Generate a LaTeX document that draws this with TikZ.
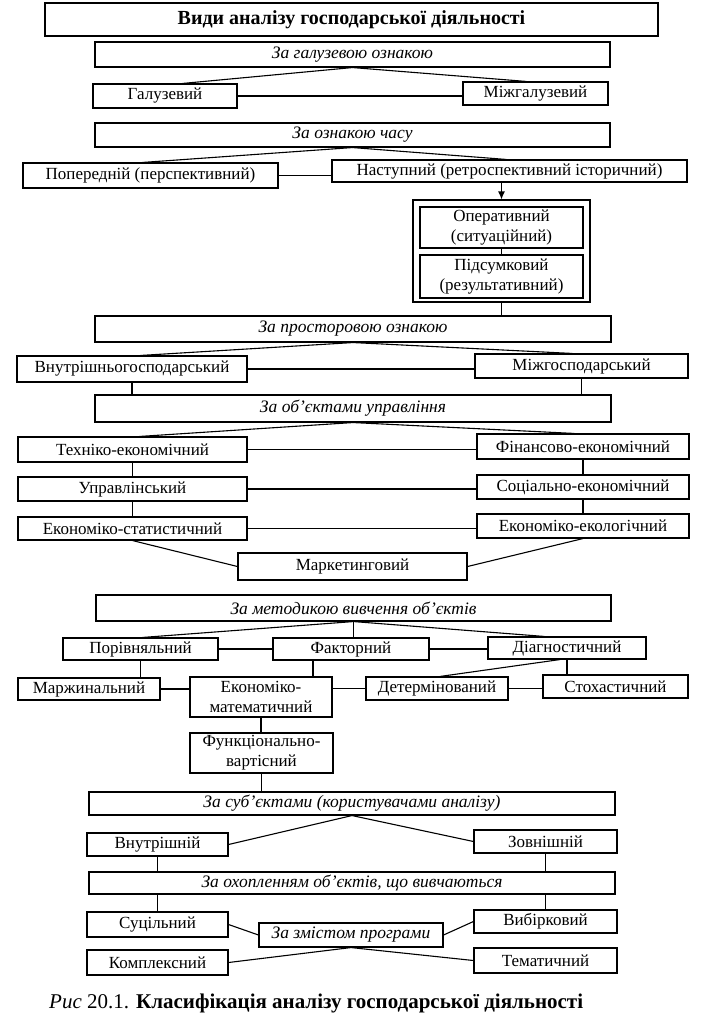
\documentclass[tikz,border=0pt]{standalone}
\usepackage{fontspec}
\setmainfont{Liberation Serif}
\usetikzlibrary{arrows.meta}
\tikzset{
  bx/.style={draw, line width=1.1pt, inner sep=0pt, align=center, font=\fontsize{17}{20}\selectfont},
  cat/.style={bx, font=\fontsize{17.5}{20}\selectfont\itshape},
  ln/.style={line width=1.1pt},
}
\begin{document}
\begin{tikzpicture}[x=1pt,y=-1pt]
\useasboundingbox[fill=white] (0,0) rectangle (703,1021);
% boxes
\node[bx, minimum width=613pt, minimum height=33pt, font=\fontsize{20}{22}\selectfont\bfseries] (title) at (351.5,19.5) {Види аналізу господарської діяльності};
\node[cat, minimum width=515pt, minimum height=25pt] (g1) at (352.5,54.5) {За галузевою ознакою};
\node[bx, minimum width=144pt, minimum height=24pt] (galuz) at (165,96) {Галузевий};
\node[bx, minimum width=145pt, minimum height=23pt] (mizhg) at (535.5,93.5) {Міжгалузевий};
\node[cat, minimum width=515pt, minimum height=24pt] (g2) at (352.5,135) {За ознакою часу};
\node[bx, minimum width=255pt, minimum height=25pt] (poper) at (150.5,175.5) {Попередній (перспективний)};
\node[bx, minimum width=355pt, minimum height=22pt] (nastup) at (509.5,171) {Наступний (ретроспективний історичний)};
\node[bx, minimum width=177pt, minimum height=102pt] (outer) at (501.5,251) {};
\node[bx, minimum width=163pt, minimum height=41pt] (op) at (501.5,227.5) {Оперативний\\(ситуаційний)};
\node[bx, minimum width=163pt, minimum height=43pt] (pid) at (501.5,276.5) {Підсумковий\\(результативний)};
\node[cat, minimum width=516pt, minimum height=26pt] (g3) at (353,329) {За просторовою ознакою};
\node[bx, minimum width=230pt, minimum height=26pt] (vnutr) at (132,369) {Внутрішньогосподарський};
\node[bx, minimum width=213pt, minimum height=24pt] (mizhgosp) at (581.5,366) {Міжгосподарський};
\node[cat, minimum width=516pt, minimum height=27pt] (g4) at (353,408.5) {За об’єктами управління};
\node[bx, minimum width=229pt, minimum height=25pt] (tekh) at (132.5,449.5) {Техніко-економічний};
\node[bx, minimum width=212pt, minimum height=25pt] (fin) at (583,446.5) {Фінансово-економічний};
\node[bx, minimum width=229pt, minimum height=24pt] (upr) at (132.5,489) {Управлінський};
\node[bx, minimum width=212pt, minimum height=24pt] (soc) at (583,487) {Соціально-економічний};
\node[bx, minimum width=229pt, minimum height=23pt] (ekstat) at (132.5,528.5) {Економіко-статистичний};
\node[bx, minimum width=212pt, minimum height=24pt] (ekekol) at (583,526) {Економіко-екологічний};
\node[bx, minimum width=229pt, minimum height=27pt] (mark) at (352.5,566.5) {Маркетинговий};
\node[cat, minimum width=515pt, minimum height=26pt] (g5) at (353.5,608) {За методикою вивчення об’єктів};
\node[bx, minimum width=155pt, minimum height=22pt] (porivn) at (140.5,649) {Порівняльний};
\node[bx, minimum width=156pt, minimum height=22pt] (faktor) at (351,649) {Факторний};
\node[bx, minimum width=158pt, minimum height=22pt] (diagn) at (567,648) {Діагностичний};
\node[bx, minimum width=142pt, minimum height=22pt] (marzh) at (89,689) {Маржинальний};
\node[bx, minimum width=142pt, minimum height=40pt] (ekmat) at (261,697) {Економіко-\\математичний};
\node[bx, minimum width=142pt, minimum height=23pt] (determ) at (437,688.5) {Детермінований};
\node[bx, minimum width=145pt, minimum height=23pt] (stokh) at (615.5,686.5) {Стохастичний};
\node[bx, minimum width=143pt, minimum height=40pt] (funk) at (261.5,753) {Функціонально-\\вартісний};
\node[cat, minimum width=526pt, minimum height=23pt] (g6) at (352,803.5) {За суб’єктами (користувачами аналізу)};
\node[bx, minimum width=141pt, minimum height=23pt] (vnutr2) at (157.5,844.5) {Внутрішній};
\node[bx, minimum width=143pt, minimum height=23pt] (zovn) at (545.5,841.5) {Зовнішній};
\node[cat, minimum width=526pt, minimum height=22pt] (g7) at (352,883) {За охопленням об’єктів, що вивчаються};
\node[bx, minimum width=141pt, minimum height=25pt] (sucil) at (157.5,924.5) {Суцільний};
\node[bx, minimum width=143pt, minimum height=23pt] (vybirk) at (545.5,921.5) {Вибірковий};
\node[cat, minimum width=184pt, minimum height=24pt] (zmist) at (351,935) {За змістом програми};
\node[bx, minimum width=141pt, minimum height=25pt] (kompl) at (157.5,962.5) {Комплексний};
\node[bx, minimum width=143pt, minimum height=25pt] (temat) at (545.5,960.5) {Тематичний};
\node[anchor=west, inner sep=0pt, font=\fontsize{21}{24}\selectfont] (cap) at (49,1003) {{\itshape Рис} 20.1. \textbf{Класифікація аналізу господарської діяльності}};
% connectors
\draw[ln] (g1.south) -- ([xshift=90pt]galuz.north west);
\draw[ln] (g1.south) -- ([xshift=64pt]mizhg.north west);
\draw[ln] (galuz.east) -- (galuz.east -| mizhg.west);
\draw[ln] (g2.south) -- ([xshift=120pt]poper.north west);
\draw[ln] (g2.south) -- ([xshift=175pt]nastup.north west);
\draw[ln] (poper.east) -- (poper.east -| nastup.west);
\draw[ln, -{Latex[length=8pt,width=7pt]}] (nastup.south -| outer.north) -- (outer.north);
\draw[ln] (op.south) -- (pid.north);
\draw[ln] (outer.south) -- (outer.south |- g3.north);
\draw[ln] (g3.south) -- ([xshift=124pt]vnutr.north west);
\draw[ln] (g3.south) -- ([xshift=98pt]mizhgosp.north west);
\draw[ln] (vnutr.east) -- (vnutr.east -| mizhgosp.west);
\draw[ln] (vnutr.south) -- (vnutr.south |- g4.north);
\draw[ln] (mizhgosp.south) -- (mizhgosp.south |- g4.north);
\draw[ln] (g4.south) -- ([xshift=122pt]tekh.north west);
\draw[ln] (g4.south) -- ([xshift=98pt]fin.north west);
\draw[ln] (tekh.east) -- (tekh.east -| fin.west);
\draw[ln] (tekh.south) -- (upr.north);
\draw[ln] (fin.south) -- (soc.north);
\draw[ln] (upr.east) -- (upr.east -| soc.west);
\draw[ln] (upr.south) -- (ekstat.north);
\draw[ln] (soc.south) -- (ekekol.north);
\draw[ln] (ekstat.east) -- (ekstat.east -| ekekol.west);
\draw[ln] (ekstat.south) -- (mark.west);
\draw[ln] (ekekol.south) -- (mark.east);
\draw[ln] (g5.south) -- ([xshift=80pt]porivn.north west);
\draw[ln] (g5.south) -- (g5.south |- faktor.north);
\draw[ln] (g5.south) -- ([xshift=57pt]diagn.north west);
\draw[ln] (porivn.east) -- (porivn.east -| faktor.west);
\draw[ln] (faktor.east) -- (faktor.east -| diagn.west);
\draw[ln] (porivn.south) -- (porivn.south |- marzh.north);
\coordinate (fk) at ([xshift=-38pt]faktor.south);
\draw[ln] (fk) -- (fk |- ekmat.north);
\draw[ln] (marzh.east) -- (marzh.east -| ekmat.west);
\draw[ln] (determ.west -| ekmat.east) -- (determ.west);
\draw[ln] (determ.east) -- (determ.east -| stokh.west);
\draw[ln] ([xshift=-7pt]diagn.south) -- ([xshift=3pt]determ.north);
\draw[ln] (diagn.south) -- (diagn.south |- stokh.north);
\draw[ln] (ekmat.south) -- (ekmat.south |- funk.north);
\draw[ln] (funk.south) -- (funk.south |- g6.north);
\draw[ln] (g6.south) -- (vnutr2.east);
\draw[ln] (g6.south) -- (zovn.west);
\draw[ln] (vnutr2.south) -- (vnutr2.south |- g7.north);
\draw[ln] (zovn.south) -- (zovn.south |- g7.north);
\draw[ln] (sucil.north |- g7.south) -- (sucil.north);
\draw[ln] (vybirk.north |- g7.south) -- (vybirk.north);
\draw[ln] (sucil.east) -- (zmist.west);
\draw[ln] (zmist.east) -- (vybirk.west);
\draw[ln] (zmist.south) -- (kompl.east);
\draw[ln] (zmist.south) -- (temat.west);
\end{tikzpicture}
\end{document}
